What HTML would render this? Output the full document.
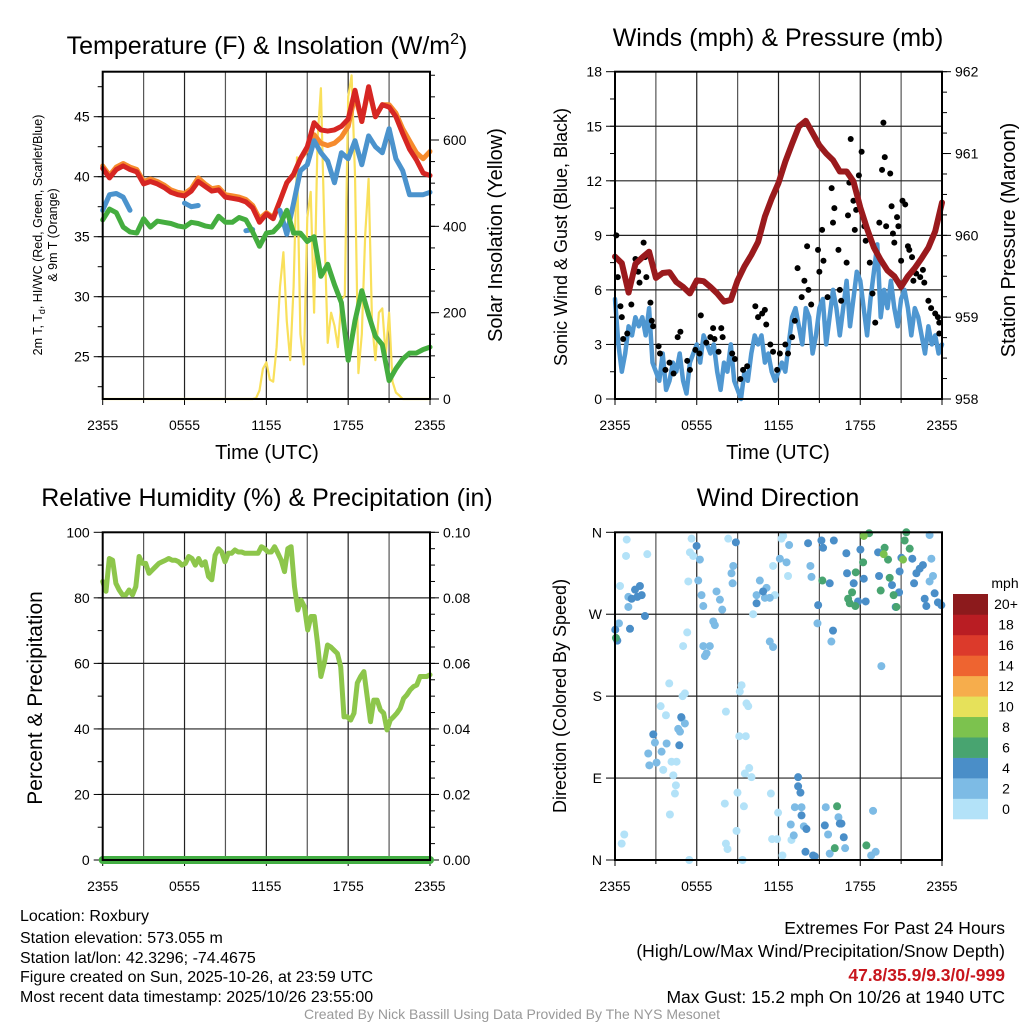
<!DOCTYPE html>
<html><head><meta charset="utf-8"><style>
html,body{margin:0;padding:0;background:#fff;}
svg{display:block;font-family:"Liberation Sans",sans-serif;}
</style></head><body>
<svg id="fig" width="1024" height="1024" viewBox="0 0 1024 1024" xmlns="http://www.w3.org/2000/svg">
<rect width="1024" height="1024" fill="#fff"/>
<text x="267" y="54" font-size="25" text-anchor="middle">Temperature (F) &amp; Insolation (W/m<tspan font-size="16" dy="-10">2</tspan><tspan dy="10">)</tspan></text>
<text x="778" y="46" font-size="25" text-anchor="middle">Winds (mph) &amp; Pressure (mb)</text>
<text x="267" y="506" font-size="25" text-anchor="middle">Relative Humidity (%) &amp; Precipitation (in)</text>
<text x="778" y="506" font-size="25" text-anchor="middle">Wind Direction</text>
<g id="g"></g>
<text transform="translate(42,235) rotate(-90)" font-size="12.5" text-anchor="middle">2m T, T<tspan font-size="9" dy="3">d</tspan><tspan dy="-3">, HI/WC (Red, Green, Scarlet/Blue)</tspan></text>
<text transform="translate(57,235) rotate(-90)" font-size="12.5" text-anchor="middle">&amp; 9m T (Orange)</text>
<text transform="translate(502,235) rotate(-90)" font-size="20" text-anchor="middle">Solar Insolation (Yellow)</text>
<text x="267" y="459" font-size="20" text-anchor="middle">Time (UTC)</text>
<text transform="translate(567,237) rotate(-90)" font-size="18" text-anchor="middle">Sonic Wind &amp; Gust (Blue, Black)</text>
<text transform="translate(1015,240) rotate(-90)" font-size="20" text-anchor="middle">Station Pressure (Maroon)</text>
<text x="778" y="459" font-size="20" text-anchor="middle">Time (UTC)</text>
<text transform="translate(42,698) rotate(-90)" font-size="21" text-anchor="middle">Percent &amp; Precipitation</text>
<text transform="translate(566,696) rotate(-90)" font-size="18" text-anchor="middle">Direction (Colored By Speed)</text>
<text x="1005" y="588" font-size="14" text-anchor="middle">mph</text>
<g font-size="16">
<text x="20" y="921">Location: Roxbury</text>
<text x="20" y="943">Station elevation: 573.055 m</text>
<text x="20" y="963">Station lat/lon: 42.3296; -74.4675</text>
<text x="20" y="982">Figure created on Sun, 2025-10-26, at 23:59 UTC</text>
<text x="20" y="1002">Most recent data timestamp: 2025/10/26 23:55:00</text>
</g>
<g font-size="17.5" text-anchor="end">
<text x="1005" y="934">Extremes For Past 24 Hours</text>
<text x="1005" y="957">(High/Low/Max Wind/Precipitation/Snow Depth)</text>
<text x="1005" y="981" fill="#c8161d" font-weight="bold">47.8/35.9/9.3/0/-999</text>
<text x="1005" y="1003">Max Gust: 15.2 mph On 10/26 at 1940 UTC</text>
</g>
<text x="512" y="1019" font-size="14" fill="#999" text-anchor="middle">Created By Nick Bassill Using Data Provided By The NYS Mesonet</text>
</svg>
<script>
// ---- data ----
const timeTickLabels = ["2355","0555","1155","1755","2355"];
const tempRed = [40.7,39.9,40.6,40.9,40.6,40.4,39.4,39.6,39.4,39.1,38.7,38.5,38.4,38.8,39.6,39.2,38.8,38.9,38.3,38.2,38.1,37.9,37.4,36.2,36.9,36.5,38,39.5,40.2,41.5,42.5,44.5,43.9,43.8,43.9,44.2,44.8,47.2,44.6,47.5,45,46,45.8,45,43.6,42.3,41.4,40.3,40.1];
const tempOrange = [40.9,40.1,40.8,41.1,40.8,40.6,39.6,39.8,39.6,39.3,38.9,38.7,38.6,39,39.9,39.4,39,39.1,38.5,38.4,38.3,38.1,37.6,36.5,37.0,36.6,38,39.5,40.2,41.5,42.3,43.5,42.8,42.6,42.8,43.3,44.2,46.8,44.6,47.3,45,46,46,45.3,44,43,42,41.5,42.1];
const tempBlue = [37.2,38.5,38.6,38.3,37.2,null,null,null,null,null,null,null,37.8,37.5,37.6,null,null,null,null,null,null,35.5,35.6,null,null,null,37.2,35.2,37.8,40.5,41,43,42,41.3,39.5,42,41.5,43,41,43.4,42.5,42,44,41.5,40.5,38.5,38.5,38.5,38.7];
const tempGreen = [36.4,37.3,37,35.8,35.4,35.3,36.5,35.8,36.3,36.2,36.1,35.9,35.8,36.2,36.1,35.9,35.8,36.7,36.2,36.2,36.6,36.4,35.4,34.2,35.3,35.4,36.0,37.2,35.3,35.3,34.6,35,31.7,32.7,31,29.5,24.7,28,30.5,28.5,26.7,26,23,24,24.8,25.3,25.3,25.6,25.8];
const solar = [0,0,0,0,0,0,0,0,0,0,0,0,0,0,0,0,0,0,0,0,0,0,0,0,0,0,0,0,0,0,0,0,0,0,0,0,0,0,0,0,0,0,0,0,0,2,20,70,85,45,40,120,260,340,180,90,260,560,150,80,420,480,200,600,720,400,130,200,170,120,230,240,700,750,520,60,150,380,510,180,90,200,210,100,200,40,15,8,0,0,0,0,0,0,0,0,0];
const windSpeed = [5.5,3,1.5,2.5,4,3.5,4.5,4,4.5,3.5,5,2,1.5,1,2.5,0.5,1,2,1.5,2.5,1,0.3,2,2.5,3,2,3.5,3,2.5,3,1.5,0.5,2,1.5,3,1,0.5,0,1.5,1,2.5,3.5,3,3.5,2,2.5,1.5,1,1.5,2,1.5,3,4.5,5,4,3,5,4.5,2.5,3.5,5,5.5,3,4.5,6,5,3.5,5,6.5,4,5.5,7,6.5,5,3.5,5.5,7,8.5,4.5,6,5,6.5,5,4,5.5,6,5,3.5,5,4.5,3.5,2.5,4,3,3.5,2.5,3];
const pressure = [959.74,959.66,959.3,959.65,959.73,959.8,959.48,959.54,959.55,959.43,959.37,959.29,959.45,959.44,959.37,959.29,959.19,959.21,959.45,959.62,959.76,959.92,960.23,960.45,960.64,960.9,961.12,961.33,961.4,961.25,961.1,961.0,960.92,960.78,960.78,960.66,960.34,960.08,959.85,959.7,959.57,959.5,959.37,959.5,959.6,959.72,959.85,960.05,960.4];
const gustHour = [0.1,0.2,0.4,0.5,0.6,0.9,1.2,1.5,1.7,1.8,2.1,2.2,2.3,2.6,2.7,2.8,3.2,3.3,3.7,4.0,4.3,4.6,4.8,5.3,5.5,5.9,6.2,6.3,6.7,7.0,7.2,7.3,7.6,7.8,7.9,8.6,8.8,9.2,9.4,9.7,10.3,10.5,10.8,11.0,11.1,11.4,11.6,11.9,12.1,12.5,12.7,13.0,13.2,13.4,13.7,13.9,14.1,14.2,14.4,14.9,15.0,15.2,15.3,15.6,15.9,16.0,16.1,16.4,16.5,16.6,17.0,17.1,17.2,17.3,17.5,17.6,17.7,17.9,18.1,18.3,18.4,18.7,18.9,19.1,19.4,19.6,19.7,19.8,19.9,20.2,20.3,20.4,20.5,20.7,20.8,21.0,21.1,21.3,21.5,21.6,21.8,21.9,22.1,22.4,22.6,22.7,23.0,23.2,23.5,23.7,23.8,23.8];
const gustValue = [9.0,6.7,5.1,4.5,3.3,3.6,5.2,7.7,7.0,6.4,8.6,7.8,6.7,5.3,4.3,4.0,2.9,2.5,1.6,2.0,1.4,3.4,3.7,2.1,1.6,2.7,2.5,4.6,3.1,3.4,3.9,3.3,2.6,3.9,3.4,2.5,2.2,1.1,1.6,1.8,5.1,4.5,4.7,4.9,4.1,3.0,2.6,1.6,2.5,3.0,2.5,3.4,4.3,7.2,5.6,6.5,8.4,6.0,5.2,8.2,7.0,9.3,7.6,5.6,11.6,9.7,10.5,8.2,6.0,5.4,7.5,10.1,11.9,14.3,10.9,9.3,10.4,12.3,13.6,9.5,8.7,7.5,5.8,4.2,9.7,12.6,15.2,13.3,9.5,12.4,10.6,9.1,8.6,10.0,9.5,7.6,10.9,10.7,8.4,8.2,7.8,6.5,6.9,6.7,7.1,6.4,5.4,5.0,4.7,4.5,4.2,3.6];
const rh = [85,82,92,91.5,84.4,82.4,80.9,80.9,82.4,80.9,83.4,92.6,90.5,90.5,87.5,88.5,89.5,90.5,91,91.5,92,91.5,91.5,91,90,90.5,92.6,92,90,92,90,91,86.5,85.5,93,95,94,91,93.6,93.6,94.6,94,94,93.6,93.6,93.6,93.6,93.6,95.6,95,94,94,95.6,93.6,91.5,88,95,95.6,83.4,76.3,79.3,77.3,70.2,74.3,74.3,66,56,60,65.6,65,64,63,59,43.7,43.7,42.7,44.8,54,56,57.5,49.8,42.2,48.8,48.8,45.8,44.8,39.7,42.7,43.7,44.8,46.3,49.3,50.4,51.9,52.9,53.4,56,56,56,56.5];
const precip = [0,0];
const dirHour = [0.86,0.81,2.37,0.37,5.62,5.5,5.74,5.38,8.31,12.34,12.22,11.6,12.7,11.73,10.14,5.3,5.0,3.98,3.35,3.74,5.13,4.96,8.14,9.29,9.16,9.65,9.78,9.12,9.6,9.85,9.53,10.02,3.54,4.15,4.52,4.28,4.47,4.4,4.03,8.06,9.46,8.99,11.44,11.97,8.92,11.53,11.9,8.14,8.26,5.45,9.36,12.29,0.68,0.49,12.95,
0.98,0.98,6.23,6.11,6.35,6.48,7.45,7.7,7.87,7.21,7.33,8.55,8.68,8.63,6.48,6.72,6.96,6.6,4.89,5.13,4.64,4.77,2.93,3.42,3.79,2.44,2.52,3.05,11.36,11.6,10.63,10.39,11.12,11.36,11.0,12.1,12.59,12.78,14.34,14.42,13.2,13.69,15.47,16.4,12.9,13.86,15.64,13.12,15.76,16.89,15.88,14.86,19.55,18.94,19.13,18.8,23.09,23.22,23.34,23.09,0.29,
1.47,1.83,1.96,1.22,1.64,2.2,1.1,0.02,0.17,2.81,4.72,4.86,5.99,8.87,10.39,10.87,14.17,15.27,15.15,16.06,16.98,17.03,17.52,18.26,18.01,17.84,18.4,19.31,19.38,20.33,20.6,20.85,20.89,21.02,21.82,22.36,22.6,22.12,21.95,22.73,22.85,23.46,23.7,23.95,14.91,15.76,16.0,13.44,13.44,13.61,13.69,14.05,16.62,16.5,16.79,15.4,13.98,14.54,14.66,
0.07,18.21,17.67,17.4,17.11,17.23,17.64,18.65,19.5,19.79,20.04,20.16,20.45,20.65,21.26,21.38,21.63,15.22,16.3,16.13,18.45,
18.26,19.72,21.14];
const dirDeg = [352,334,336,301,353,338,334,306,353,356,353,323,312,291,270,250,235,194,169,159,183,180,163,192,185,172,169,136,136,101,95,91,99,108,108,93,82,73,50,62,59,74,73,52,32,23,23,18,12,0,0,5,28,18,22,
289,278,330,307,291,279,295,286,275,262,258,315,323,304,235,227,235,224,156,150,144,141,129,119,128,117,104,107,240,234,307,291,299,288,288,331,327,346,323,311,58,58,58,47,39,37,28,27,7,13,240,260,213,54,9,5,357,331,312,306,260,
297,301,291,287,289,268,254,253,241,138,126,157,345,349,282,295,348,343,351,351,337,315,304,309,341,284,284,338,312,302,278,294,317,332,331,320,324,315,304,287,279,293,283,280,280,304,252,91,81,74,49,34,40,40,25,38,9,5,4,
244,327,316,294,287,282,279,359,296,343,330,310,291,278,351,360,342,307,59,13,16,
356,336,330];
const dirSpeed = [1,1,1,1,1,1,1,1,1,1,1,1,1,1,1,1,1,1,1,1,1,1,1,1,1,1,1,1,1,1,1,1,1,1,1,1,1,1,1,1,1,1,1,1,1,1,1,1,1,1,1,1,1,1,1,
3,3,3,3,3,3,3,3,3,3,3,3,3,3,3,3,3,3,3,3,3,3,3,3,3,3,3,3,3,3,3,3,3,3,3,3,3,3,3,3,3,3,3,3,3,3,3,3,3,3,3,3,3,3,3,3,3,3,3,3,3,
5,5,5,5,5,5,5,5,5,5,5,5,5,5,5,5,5,5,5,5,5,5,5,5,5,5,5,5,5,5,5,5,5,5,5,5,5,5,5,5,5,5,5,5,5,5,5,5,5,5,5,5,5,5,5,5,5,5,5,
7,7,7,7,7,7,7,7,7,7,7,7,7,7,7,7,7,7,7,7,7,
9,9,9];
const cbLabels = ["0","2","4","6","8","10","12","14","16","18","20+"];
const cbColors = ["#b3e2f8","#7dbbe5","#4a8ec8","#48a470","#7cc24e","#e6e15a","#f6ad4c","#ee6430","#dc3a2b","#b91d23","#8c1a1c"];

// ---- helpers ----
const NS="http://www.w3.org/2000/svg";
const G=document.getElementById('g');
function mk(tag,attrs,parent){const e=document.createElementNS(NS,tag);for(const k in attrs)e.setAttribute(k,attrs[k]);(parent||G).appendChild(e);return e;}
function lin(d0,d1,r0,r1){return v=>r0+(v-d0)/(d1-d0)*(r1-r0);}

const P1={x0:102.7,x1:430,y0:71.7,y1:399};
const P2={x0:615,x1:942,y0:71.7,y1:399};
const P3={x0:102.7,x1:430,y0:532.3,y1:860};
const P4={x0:615,x1:942,y0:532.3,y1:860};

function frame(P,name,yScale,yGrid,yMaj,yMin,yLab,rScale,rMaj,rMin,rLab){
  const X=lin(0,24,P.x0,P.x1);
  const grp=mk('g',{});
  
  
  for(let h=3;h<24;h+=3){
    const l=mk('line',{x1:X(h),x2:X(h),y1:P.y0,y2:P.y1,stroke:(h%6==0?'#222':'#555'),'stroke-width':1.2},grp);
    
    
  }
  yGrid.forEach(v=>{
    const l=mk('line',{x1:P.x0,x2:P.x1,y1:yScale(v),y2:yScale(v),stroke:'#222','stroke-width':1.2},grp);
    
    
  });
  for(let h=0;h<=24;h+=3){
    mk('line',{x1:X(h),x2:X(h),y1:P.y1,y2:P.y1+(h%6==0?6:4),stroke:'#000','stroke-width':1},grp);
  }
  timeTickLabels.forEach((t,i)=>{
    const tx=mk('text',{x:X(i*6),y:P.y1+31,'font-size':14,'text-anchor':'middle'},grp);
    
    
    tx.textContent=t;
  });
  yMin.forEach(v=>mk('line',{x1:P.x0-5,x2:P.x0,y1:yScale(v),y2:yScale(v),stroke:'#000','stroke-width':1},grp));
  yMaj.forEach((v,i)=>{
    mk('line',{x1:P.x0-9,x2:P.x0,y1:yScale(v),y2:yScale(v),stroke:'#000','stroke-width':1},grp);
    const tx=mk('text',{x:P.x0-13,y:yScale(v)+5,'font-size':14,'text-anchor':'end'},grp);
    
    
    tx.textContent=yLab[i];
  });
  if(rScale){
    rMin.forEach(v=>mk('line',{x1:P.x1,x2:P.x1+5,y1:rScale(v),y2:rScale(v),stroke:'#000','stroke-width':1},grp));
    rMaj.forEach((v,i)=>{
      mk('line',{x1:P.x1,x2:P.x1+9,y1:rScale(v),y2:rScale(v),stroke:'#000','stroke-width':1},grp);
      const tx=mk('text',{x:P.x1+13,y:rScale(v)+5,'font-size':14,'text-anchor':'start'},grp);
      
      
      tx.textContent=rLab[i];
    });
  }
  return X;
}
function border(P){
  const r=mk('rect',{x:P.x0,y:P.y0,width:P.x1-P.x0,height:P.y1-P.y0,fill:'none',stroke:'#000','stroke-width':2});
  
  
}
function seriesPath(vals,X,Y){
  let d='';let pen=false;const n=vals.length;
  vals.forEach((v,i)=>{
    if(v===null){pen=false;return;}
    const x=X(i*24/(n-1)).toFixed(1),y=Y(v).toFixed(1);
    d+=(pen?'L':'M')+x+' '+y+(pen?' ':' L'+x+' '+y+' ');pen=true;
  });
  return d;
}
function range(a,b,s){const r=[];for(let v=a;v<=b+1e-9;v+=s)r.push(+v.toFixed(4));return r;}

// ---- Panel 1 ----
{
  const Y=lin(25,45,356.7,116.7);
  const R=lin(0,600,399,140);
  const X=frame(P1,'temp',Y,[25,30,35,40,45],[25,30,35,40,45],range(22.5,47.5,2.5),["25","30","35","40","45"],R,[0,200,400,600],range(0,750,50),["0","200","400","600"]);
  const s=mk('path',{d:seriesPath(solar,X,R),fill:'none',stroke:'#f9e05b','stroke-width':2.2,'stroke-linejoin':'round'});
  
  
  const o=mk('path',{d:seriesPath(tempOrange,X,Y),fill:'none',stroke:'#f68b2d','stroke-width':5,'stroke-linejoin':'round','stroke-linecap':'round'});
  
  
  const r=mk('path',{d:seriesPath(tempRed,X,Y),fill:'none',stroke:'#d62623','stroke-width':5,'stroke-linejoin':'round','stroke-linecap':'round'});
  
  
  const b=mk('path',{d:seriesPath(tempBlue,X,Y),fill:'none',stroke:'#4b93cd','stroke-width':5,'stroke-linejoin':'round','stroke-linecap':'round'});
  
  
  const g=mk('path',{d:seriesPath(tempGreen,X,Y),fill:'none',stroke:'#44ad3f','stroke-width':5,'stroke-linejoin':'round','stroke-linecap':'round'});
  
  
  border(P1);
}
// ---- Panel 2 ----
{
  const Y=lin(0,18,399,71.7);
  const R=lin(958,962,399,71.7);
  const X=frame(P2,'wind',Y,[3,6,9,12,15],[0,3,6,9,12,15,18],range(1.5,16.5,1.5),["0","3","6","9","12","15","18"],R,[958,959,960,961,962],range(958,962,0.25),["958","959","960","961","962"]);
  const w=mk('path',{d:seriesPath(windSpeed,X,Y),fill:'none',stroke:'#4f97d1','stroke-width':4.5,'stroke-linejoin':'round','stroke-linecap':'round'});
  
  
  gustHour.forEach((h,i)=>{
    const c=mk('circle',{cx:X(h),cy:Y(gustValue[i]),r:3,fill:'#000'});
    
    
  });
  const p=mk('path',{d:seriesPath(pressure,X,R),fill:'none',stroke:'#9a1a1d','stroke-width':6,'stroke-linejoin':'round','stroke-linecap':'round'});
  
  
  border(P2);
}
// ---- Panel 3 ----
{
  const Y=lin(0,100,860,532.3);
  const R=lin(0,0.1,860,532.3);
  const X=frame(P3,'rh',Y,[20,40,60,80],[0,20,40,60,80,100],range(10,90,10),["0","20","40","60","80","100"],R,[0,0.02,0.04,0.06,0.08,0.1],range(0,0.1,0.005),["0.00","0.02","0.04","0.06","0.08","0.10"]);
  const l=mk('path',{d:seriesPath(rh,X,Y),fill:'none',stroke:'#8dc64b','stroke-width':5,'stroke-linejoin':'round','stroke-linecap':'round'});
  
  
  const pr=mk('path',{d:seriesPath(precip,X,R),fill:'none',stroke:'#43ae43','stroke-width':8,'stroke-linecap':'round'});
  
  
  border(P3);
}
// ---- Panel 4 ----
{
  const Y=lin(0,360,860,532.3);
  const X=frame(P4,'direction',Y,[90,180,270],[0,90,180,270,360],[],["N","E","S","W","N"],null);
  dirHour.forEach((h,i)=>{
    const idx=Math.min(10,Math.floor(dirSpeed[i]/2));
    const c=mk('circle',{cx:X(h),cy:Y(dirDeg[i]),r:4,fill:cbColors[idx]});
    
    
  });
  border(P4);
  const cb=mk('g',{});
  
  
  const h=225/11;
  cbColors.forEach((c,i)=>{
    const y=819-(i+1)*h;
    const r=mk('rect',{x:953,y:y,width:35,height:h+0.3,fill:c},cb);
    
    
    const t=mk('text',{x:1006,y:y+h/2+5,'font-size':14,'text-anchor':'middle'},cb);
    
    
    t.textContent=cbLabels[i];
  });
}
</script>
</body></html>
